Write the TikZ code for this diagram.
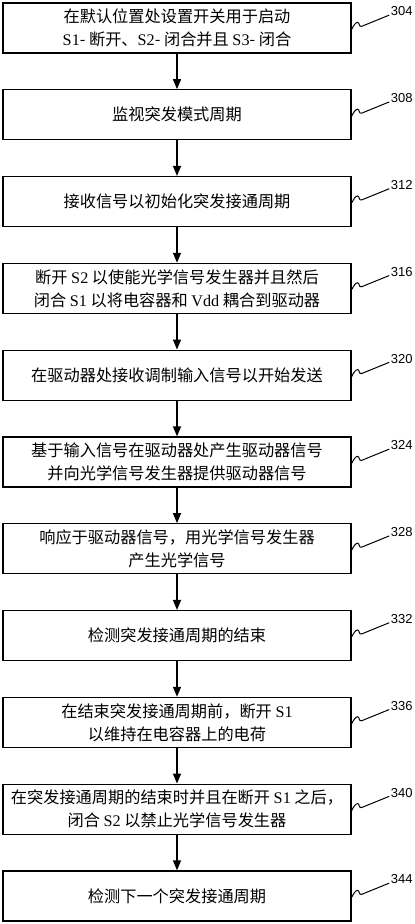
\documentclass[tikz,border=0pt]{standalone}
\usepackage{fontspec}
\setmainfont{Liberation Serif}
\newfontfamily\cjk{Noto Sans CJK SC}
\newfontfamily\latf{Liberation Serif}
\newfontfamily\lblf{Liberation Sans}
\newcommand\La[1]{{\latf #1}}
\usetikzlibrary{arrows.meta,calc}
\tikzset{
  stepbox/.style={draw, line width=1.3bp, minimum width=348bp, minimum height=50bp,
    inner sep=1bp, align=center, font=\cjk\fontsize{16.2bp}{23bp}\selectfont},
  flowarr/.style={line width=1.3bp, -{Triangle[length=10bp,width=8bp]}},
  leader/.style={line width=1bp},
  reflbl/.style={inner sep=0pt, anchor=west, font=\lblf\fontsize{13bp}{15bp}\selectfont}
}
\begin{document}
\begin{tikzpicture}
\useasboundingbox (0,0) rectangle (415bp,-924bp);
\foreach \i/\txt/\lab in {
 1/{在默认位置处设置开关用于启动\\\La{S1}- 断开、\La{S2}- 闭合并且 \La{S3}- 闭合}/304,
 2/{监视突发模式周期}/308,
 3/{接收信号以初始化突发接通周期}/312,
 4/{断开 \La{S2} 以使能光学信号发生器并且然后\\闭合 \La{S1} 以将电容器和 \La{Vdd} 耦合到驱动器}/316,
 5/{在驱动器处接收调制输入信号以开始发送}/320,
 6/{基于输入信号在驱动器处产生驱动器信号\\并向光学信号发生器提供驱动器信号}/324,
 7/{响应于驱动器信号，用光学信号发生器\\产生光学信号}/328,
 8/{检测突发接通周期的结束}/332,
 9/{在结束突发接通周期前，断开 \La{S1}\\以维持在电容器上的电荷}/336,
 10/{在突发接通周期的结束时并且在断开 \La{S1} 之后，\\闭合 \La{S2} 以禁止光学信号发生器}/340,
 11/{检测下一个突发接通周期}/344}
{
  \pgfmathsetmacro\yc{-(3+86.8*(\i-1)+25)}
  \node[stepbox] (b\i) at (177bp,\yc bp) {\txt};
  \node[reflbl] (l\i) at ($(b\i.north east)+(39bp,-9bp)$) {\lab};
  \coordinate (s\i) at ($(b\i.north east)+(0,-27bp)$);
  \coordinate (e\i) at ($(l\i.south west)+(-1.5bp,1bp)$);
  \draw[leader] (s\i) .. controls +(2bp,4bp) and +(-2bp,0) .. ++(6bp,7bp)
     .. controls +(2bp,0) and +(-3bp,-1bp) .. ++(4bp,-4bp) -- (e\i);
}
\foreach \i [evaluate=\i as \j using int(\i+1)] in {1,...,10}{
  \draw[flowarr] (b\i.south) -- (b\j.north);
}
\end{tikzpicture}
\end{document}
